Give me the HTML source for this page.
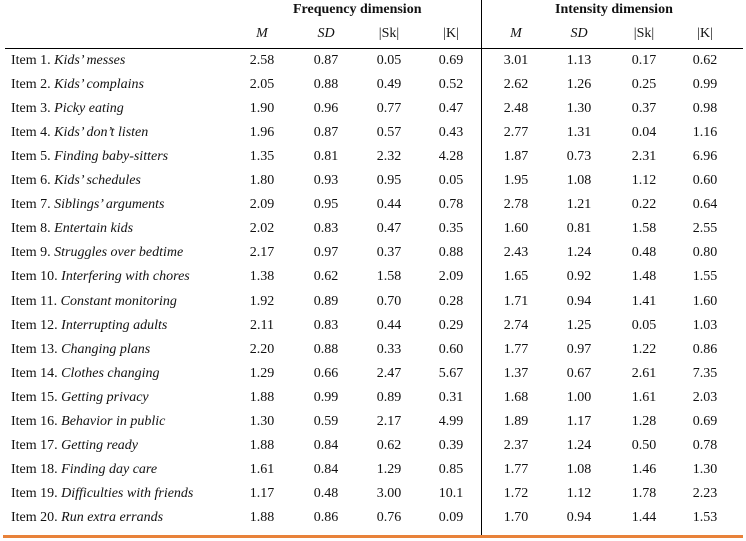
<!DOCTYPE html>
<html><head><style>
body{margin:0;width:746px;height:541px;background:#fff;position:relative;overflow:hidden;font-family:"Liberation Serif",serif;font-size:14px;color:#111}
.t{position:absolute;white-space:nowrap;line-height:16px}
.c{position:absolute;width:60px;text-align:center;line-height:16px}
i{font-style:italic}
</style></head><body>
<div class="t" style="left:293px;top:2px;font-weight:bold">Frequency dimension</div>
<div class="t" style="left:555px;top:2px;font-weight:bold">Intensity dimension</div>
<div style="position:absolute;left:481px;top:0;width:1px;height:536px;background:#000"></div>
<div style="position:absolute;left:5px;top:48px;width:738px;height:1px;background:#000"></div>
<div style="position:absolute;left:3px;top:535px;width:740px;height:3px;background:#e8823a"></div>
<div class="c" style="left:232px;top:26px"><i>M</i></div>
<div class="c" style="left:296px;top:26px"><i>SD</i></div>
<div class="c" style="left:359px;top:26px">|Sk|</div>
<div class="c" style="left:421px;top:26px">|K|</div>
<div class="c" style="left:486px;top:26px"><i>M</i></div>
<div class="c" style="left:549px;top:26px"><i>SD</i></div>
<div class="c" style="left:614px;top:26px">|Sk|</div>
<div class="c" style="left:675px;top:26px">|K|</div>
<div id="rows"></div>
<script>
var d=[["Kids’ messes","2.58 0.87 0.05 0.69 3.01 1.13 0.17 0.62"],
["Kids’ complains","2.05 0.88 0.49 0.52 2.62 1.26 0.25 0.99"],
["Picky eating","1.90 0.96 0.77 0.47 2.48 1.30 0.37 0.98"],
["Kids’ don’t listen","1.96 0.87 0.57 0.43 2.77 1.31 0.04 1.16"],
["Finding baby-sitters","1.35 0.81 2.32 4.28 1.87 0.73 2.31 6.96"],
["Kids’ schedules","1.80 0.93 0.95 0.05 1.95 1.08 1.12 0.60"],
["Siblings’ arguments","2.09 0.95 0.44 0.78 2.78 1.21 0.22 0.64"],
["Entertain kids","2.02 0.83 0.47 0.35 1.60 0.81 1.58 2.55"],
["Struggles over bedtime","2.17 0.97 0.37 0.88 2.43 1.24 0.48 0.80"],
["Interfering with chores","1.38 0.62 1.58 2.09 1.65 0.92 1.48 1.55"],
["Constant monitoring","1.92 0.89 0.70 0.28 1.71 0.94 1.41 1.60"],
["Interrupting adults","2.11 0.83 0.44 0.29 2.74 1.25 0.05 1.03"],
["Changing plans","2.20 0.88 0.33 0.60 1.77 0.97 1.22 0.86"],
["Clothes changing","1.29 0.66 2.47 5.67 1.37 0.67 2.61 7.35"],
["Getting privacy","1.88 0.99 0.89 0.31 1.68 1.00 1.61 2.03"],
["Behavior in public","1.30 0.59 2.17 4.99 1.89 1.17 1.28 0.69"],
["Getting ready","1.88 0.84 0.62 0.39 2.37 1.24 0.50 0.78"],
["Finding day care","1.61 0.84 1.29 0.85 1.77 1.08 1.46 1.30"],
["Difficulties with friends","1.17 0.48 3.00 10.1 1.72 1.12 1.78 2.23"],
["Run extra errands","1.88 0.86 0.76 0.09 1.70 0.94 1.44 1.53"]];
var xs=[262,326,389,451,516,579,644,705],h="";
d.forEach(function(r,i){var y=53+i*24.05;
h+='<div class="t" style="left:11px;top:'+y+'px">Item '+(i+1)+'. <i>'+r[0]+'</i></div>';
r[1].split(" ").forEach(function(v,j){h+='<div class="c" style="left:'+(xs[j]-30)+'px;top:'+y+'px">'+v+'</div>';});});
document.getElementById("rows").innerHTML=h;
</script>
</body></html>
